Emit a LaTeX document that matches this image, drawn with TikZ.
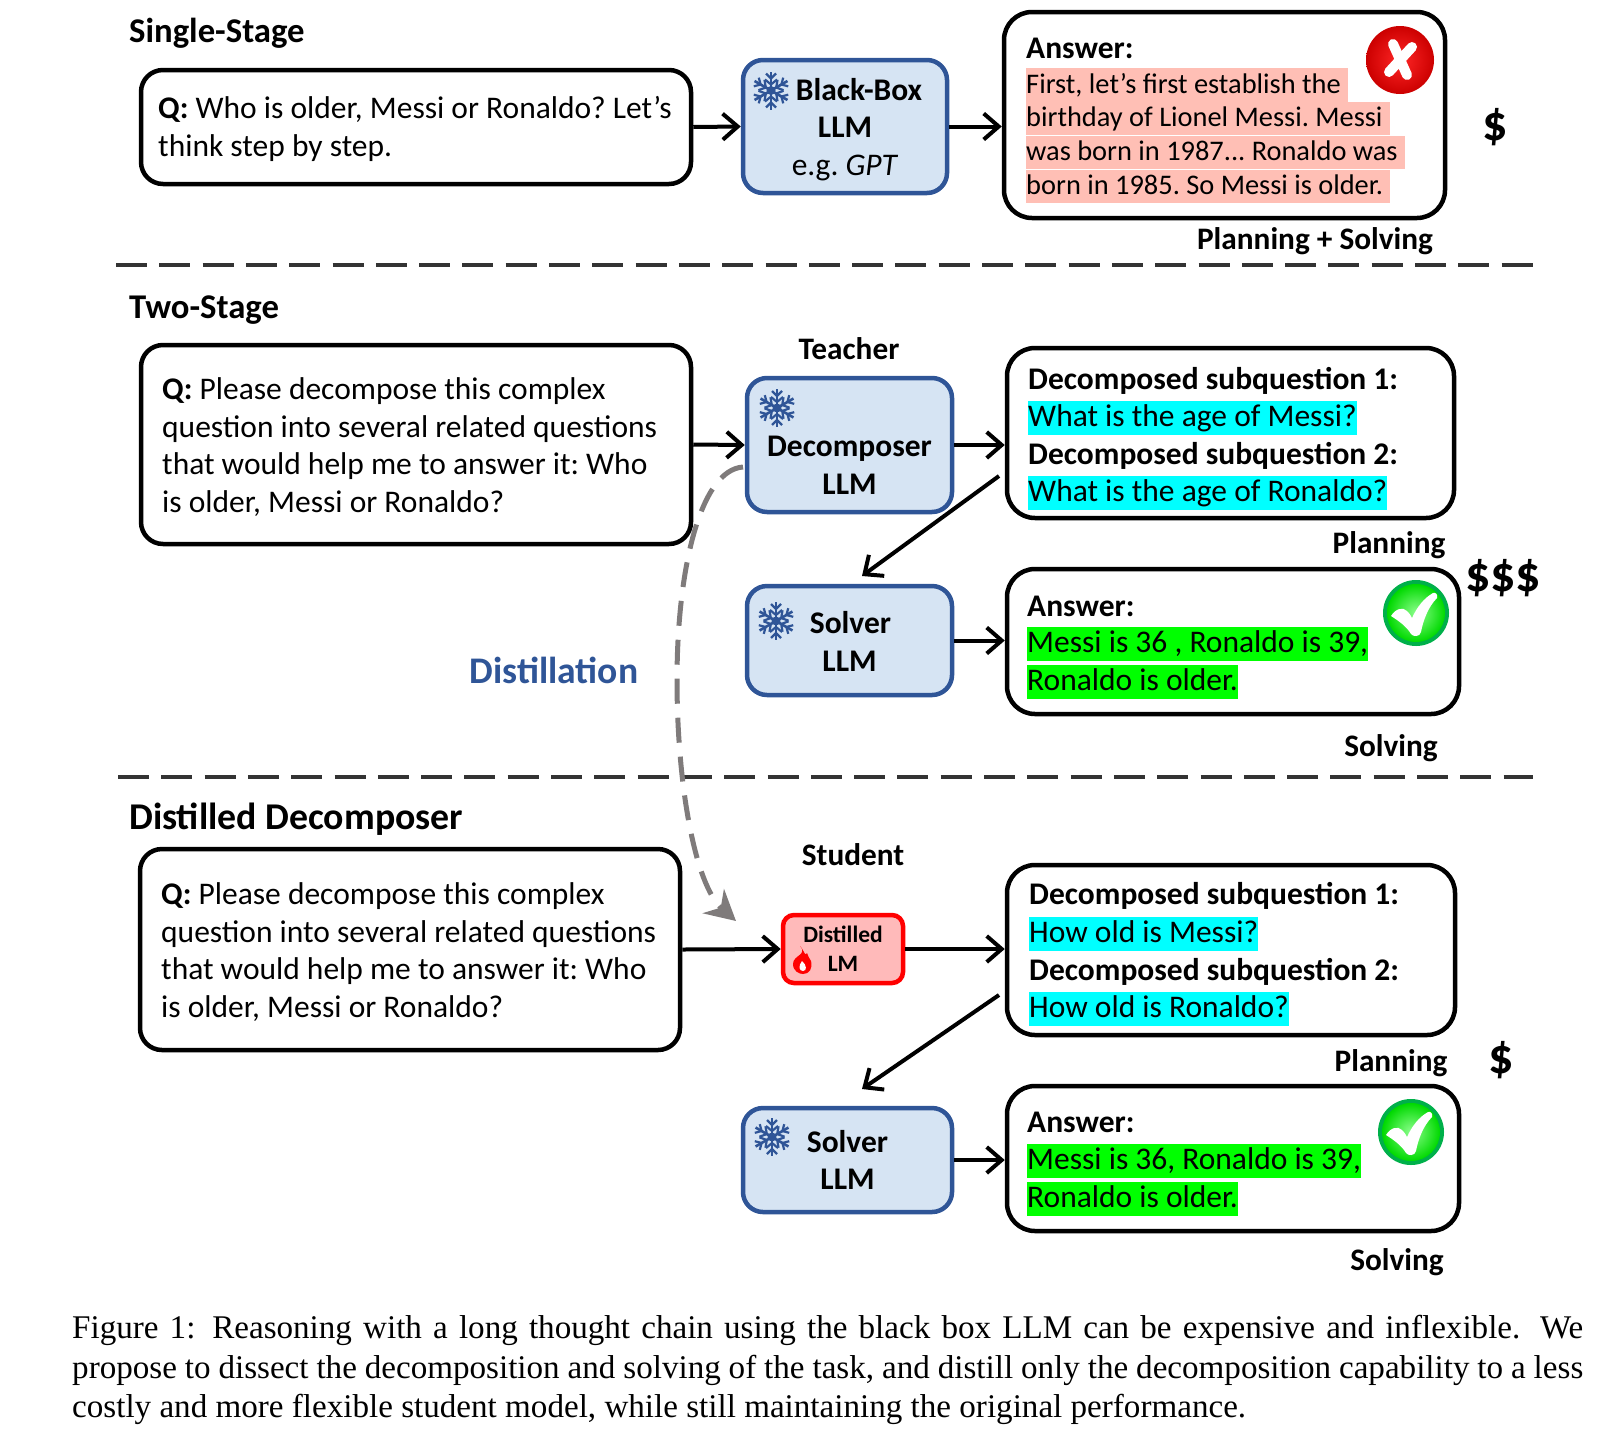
\documentclass[tikz,border=0pt]{standalone}
\usepackage{fontspec}
\setmainfont{Carlito}
\newfontfamily\capfont{Liberation Serif}
\usetikzlibrary{positioning, arrows.meta, calc}
\definecolor{llmblue}{HTML}{D6E4F3}
\definecolor{llmedge}{HTML}{2F5597}
\definecolor{wrongbg}{HTML}{FFBFB5}
\definecolor{distgray}{HTML}{7F7B7B}
\definecolor{aquahl}{HTML}{00FFFF}
\definecolor{okring}{HTML}{00B04A}
\tikzset{
  pics/snowflake/.style={code={
    \foreach \a in {0,60,...,300}{
      \draw[llmedge, line width=2.6pt, rotate=\a] (0,0) -- (0,-19);
      \draw[llmedge, line width=2.2pt, rotate=\a] (-5,-17) -- (0,-12) -- (5,-17);
      \draw[llmedge, line width=2.2pt, rotate=\a] (-6,-11) -- (0,-6) -- (6,-11);
    }
    \fill[llmedge] (0,0) circle (4.5);
  }},
  pics/flame/.style={code={
    \fill[red] (-2,-15) .. controls (6,-6) and (-9,-6) .. (-9,3)
      .. controls (-9,10) and (-3,13) .. (1,13)
      .. controls (7,13) and (11,8) .. (9,0)
      .. controls (8,-3) and (5,-5) .. (5,-8)
      .. controls (3,-4) and (3,-9) .. (-2,-15);
    \fill[white] (0,0) .. controls (-4,5) and (-3,10) .. (1,10)
      .. controls (5,10) and (5,4) .. (0,0);
  }},
  pics/okmark/.style={code={
    \fill[okring] (0,0) circle (33);
    \shade[inner color=green!45!white, outer color=green!85!black] (0,0) circle (29);
    \fill[white] (-25,3) .. controls (-20,-5) and (-13,-6) .. (-9,-2)
      .. controls (-6,1) and (-5,3) .. (-4,5)
      .. controls (1,-6) and (8,-15) .. (17,-20)
      .. controls (20,-21) and (22,-18) .. (21,-15)
      .. controls (12,-6) and (7,8) .. (5,19)
      .. controls (4,24) and (-3,24) .. (-5,21)
      .. controls (-9,14) and (-17,8) .. (-25,3);
  }},
  pics/wrongmark/.style={code={
    \shade[inner color=red!85!white, outer color=red!80!black] (0,0) circle (34);
    \draw[white, line width=10pt, line cap=round] (-7,-16) -- (7,15);
    \draw[white, line width=10pt, line cap=round] (12,-13) -- (-11,12);
  }}
}
\begin{document}
\frenchspacing
\begin{tikzpicture}[x=1pt, y=-1pt, font=\fontsize{31.5}{37.5}\selectfont,
    qbox/.style={draw, line width=4.5pt, rounded corners=22pt, align=left, inner sep=0pt},
    abox/.style={draw, line width=4.5pt, rounded corners=28pt, inner sep=0pt},
    llm/.style={draw=llmedge, fill=llmblue, line width=4.5pt, rounded corners=20pt, inner sep=0pt, align=center},
    student/.style={draw=red, fill=red!27, line width=4.5pt, rounded corners=11pt, inner sep=0pt},
    head/.style={font=\fontsize{31.5}{37.5}\selectfont\bfseries, anchor=west, inner sep=0pt},
    title/.style={font=\fontsize{34.7}{40}\selectfont\bfseries, anchor=west, inner sep=0pt},
    tag/.style={font=\fontsize{31.3}{36}\selectfont\bfseries, inner sep=0pt, align=center},
    row/.style={anchor=west, inner sep=0pt, text height=25pt, text depth=8.5pt},
    wrongrow/.style={row, fill=wrongbg, font=\fontsize{28.4}{34}\selectfont, execute at end node={\hspace*{7pt}}},
    cost/.style={font=\fontsize{50}{50}\selectfont\bfseries, inner sep=0pt},
    arr/.style={-{Straight Barb[length=15pt, width=26pt, line width=4pt]}, line width=4pt},
    sep/.style={line width=3.6pt, black!80, dash pattern=on 31pt off 12.3pt}]
  \useasboundingbox (0,0) rectangle (1613,1430);
  % single stage
  \node[title] (title1) at (129,33.5) {Single-Stage};
  \node[qbox, minimum width=550pt, minimum height=114pt] (q1) at (416,127) {};
  \node[anchor=west, inner sep=0pt, align=left] (q1text) at (158,129)
    {\textbf{Q:} Who is older, Messi or Ronaldo? Let’s\\think step by step.};
  \node[llm, minimum width=204pt, minimum height=133pt] (bb) at (845,126.5) {};
  \node[align=center, inner sep=0pt] (bbtext) at (845,129.5)
    {\hspace*{28pt}\textbf{Black-Box}\\\textbf{LLM}\\e.g. \textit{GPT}};
  \pic at (771,90.5) {snowflake};
  \node[abox, minimum width=441pt, minimum height=206pt] (a1) at (1224.5,115) {};
  \node[head] (a1head) at (1026,48.5) {Answer:};
  \node[wrongrow] (a1r1) at (1026,85) {First, let’s first establish the};
  \node[wrongrow] (a1r2) at (1026,118.5) {birthday of Lionel Messi. Messi};
  \node[wrongrow] (a1r3) at (1026,152.5) {was born in 1987... Ronaldo was};
  \node[wrongrow] (a1r4) at (1026,186.5) {born in 1985. So Messi is older.};
  \pic at (1400,60) {wrongmark};
  \node[tag] (plansolve) at (1315,241.5) {Planning + Solving};
  \node[cost] (cost1) at (1495,127) {\$};
  \draw[arr] (q1.east) -- (bb.west);
  \draw[arr] (bb.east) -- (bb.east -| a1.west);
  \draw[sep] (116,265) -- (1533,265);
  % two stage
  \node[title] (title2) at (129,310) {Two-Stage};
  \node[qbox, minimum width=550pt, minimum height=199pt] (q2) at (416,444.5) {};
  \node[anchor=west, inner sep=0pt, align=left] (q2text) at (162,447)
    {\textbf{Q:} Please decompose this complex\\question into several related questions\\that would help me to answer it: Who\\is older, Messi or Ronaldo?};
  \node[tag] (teacher) at (849,349) {Teacher};
  \node[llm, minimum width=205pt, minimum height=134pt] (dec) at (849.5,445) {};
  \node[align=center, inner sep=0pt] (dectext) at (849.5,465.5) {\textbf{Decomposer}\\\textbf{LLM}};
  \pic at (777,408) {snowflake};
  \node[abox, minimum width=447pt, minimum height=170pt] (sub1) at (1230.5,433) {};
  \node[head] (sub1a) at (1028,381) {Decomposed subquestion 1:};
  \node[row, fill=aquahl] (sub1b) at (1028,418) {What is the age of Messi?};
  \node[head] (sub1c) at (1028,456) {Decomposed subquestion 2:};
  \node[row, fill=aquahl] (sub1d) at (1028,493) {What is the age of Ronaldo?};
  \node[tag] (plan1) at (1389,545) {Planning};
  \node[llm, minimum width=205pt, minimum height=109pt] (sol1) at (849.5,640.5) {};
  \node[align=center, inner sep=0pt] (sol1text) at (849.5,641.5) {\hspace*{2pt}\textbf{Solver}\\\textbf{LLM}};
  \pic at (776,621) {snowflake};
  \node[abox, minimum width=452pt, minimum height=145pt] (a2) at (1233,641.5) {};
  \node[head] (a2head) at (1027,606) {Answer:};
  \node[row, fill=green] (a2r1) at (1027,644) {Messi is 36 , Ronaldo is 39,};
  \node[row, fill=green] (a2r2) at (1027,682) {Ronaldo is older.};
  \pic at (1416,613) {okmark};
  \node[tag] (solve1) at (1391,748) {Solving};
  \node[cost] (cost2) at (1503,578) {\$\$\$};
  \node[font=\fontsize{37.6}{40}\selectfont\bfseries, text=llmedge, inner sep=0pt] (distlabel) at (554,670) {Distillation};
  \draw[arr] (q2.east) -- (dec.west);
  \draw[arr] (dec.east) -- (dec.east -| sub1.west);
  \draw[arr] (sol1.east) -- (sol1.east -| a2.west);
  \coordinate (sub1out) at (999,476);
  \coordinate (sol1in) at (862,576);
  \draw[arr] (sub1out) -- (sol1in);
  \draw[sep] (118,777) -- (1533,777);
  % distilled decomposer
  \node[title, font=\fontsize{37.8}{40}\selectfont\bfseries] (title3) at (129,819) {Distilled Decomposer};
  \node[qbox, minimum width=540pt, minimum height=201pt] (q3) at (410,949.5) {};
  \node[anchor=west, inner sep=0pt, align=left] (q3text) at (161,952)
    {\textbf{Q:} Please decompose this complex\\question into several related questions\\that would help me to answer it: Who\\is older, Messi or Ronaldo?};
  \node[tag] (studentlabel) at (853,855) {Student};
  \node[student, minimum width=120pt, minimum height=68pt] (dist) at (843,949) {};
  \node[align=center, inner sep=0pt, font=\fontsize{23.5}{29}\selectfont\bfseries] (disttext) at (843,949) {Distilled\\LM};
  \pic at (802,961) {flame};
  \node[abox, minimum width=448pt, minimum height=170pt] (sub2) at (1231,950) {};
  \node[head] (sub2a) at (1029,896) {Decomposed subquestion 1:};
  \node[row, fill=aquahl] (sub2b) at (1029,934) {How old is Messi?};
  \node[head] (sub2c) at (1029,972) {Decomposed subquestion 2:};
  \node[row, fill=aquahl] (sub2d) at (1029,1009) {How old is Ronaldo?};
  \node[tag] (plan2) at (1391,1063) {Planning};
  \node[cost] (cost3) at (1501,1060) {\$};
  \node[llm, minimum width=209pt, minimum height=104pt] (sol2) at (847.5,1160) {};
  \node[align=center, inner sep=0pt] (sol2text) at (847.5,1160) {\textbf{Solver}\\\textbf{LLM}};
  \pic at (772,1137) {snowflake};
  \node[abox, minimum width=452pt, minimum height=145pt] (a3) at (1233,1158.5) {};
  \node[head] (a3head) at (1027,1122) {Answer:};
  \node[row, fill=green] (a3r1) at (1027,1161) {Messi is 36, Ronaldo is 39,};
  \node[row, fill=green] (a3r2) at (1027,1199) {Ronaldo is older.};
  \pic at (1411,1132) {okmark};
  \node[tag] (solve2) at (1397,1262) {Solving};
  \draw[arr] (q3.east) -- (dist.west);
  \draw[arr] (dist.east) -- (dist.east -| sub2.west);
  \draw[arr] (sol2.east) -- (sol2.east -| a3.west);
  \coordinate (sub2out) at (999,995);
  \coordinate (sol2in) at (862,1089);
  \draw[arr] (sub2out) -- (sol2in);
  % distillation curve
  \coordinate (distfrom) at (743,467);
  \coordinate (distmid) at (677,680);
  \coordinate (distto) at (736,921);
  \draw[distgray, line width=5pt, dash pattern=on 25pt off 14pt, -{Stealth[length=30pt, width=32pt]}]
    (distfrom) .. controls (700,470) and (677,570) .. (distmid)
    .. controls (677,785) and (695,885) .. (distto);
  % caption
  \node[anchor=north west, inner sep=0pt, align=justify, text width=1511pt, font=\capfont\nonfrenchspacing\fontsize{33.1}{39.6}\selectfont] (caption) at (72,1315)
    {Figure 1: Reasoning with a long thought chain using the black box LLM can be expensive and inflexible. We\linebreak propose to dissect the decomposition and solving of the task, and distill only the decomposition capability to a less\linebreak costly and more flexible student model, while still maintaining the original performance.};
\end{tikzpicture}
\end{document}
